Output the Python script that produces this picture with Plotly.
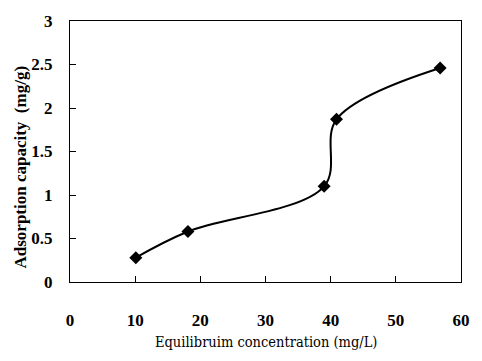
import plotly.graph_objects as go

conc = [10.1, 18.1, 39.0, 40.9, 56.8]
capacity = [0.28, 0.58, 1.10, 1.87, 2.46]
x_ticks = [0, 10, 20, 30, 40, 50, 60]
y_ticks = [0, 0.5, 1, 1.5, 2, 2.5, 3]
x_tick_text = ["0", "10", "20", "30", "40", "50", "60"]
y_tick_text = ["0", "0.5", "1", "1.5", "2", "2.5", "3"]
x_title = "Equilibruim concentration (mg/L)"
y_title = "Adsorption capacity  (mg/g)"

fig = go.Figure()
fig.add_trace(go.Scatter(
    x=conc, y=capacity, mode="lines+markers",
    line=dict(color="black", width=2, shape="spline", smoothing=1),
    marker=dict(symbol="diamond", size=10, color="black"),
    showlegend=False,
))

font = "Liberation Serif"
fig.update_layout(
    width=482, height=361,
    margin=dict(l=70, r=13, t=15, b=79),
    paper_bgcolor="white", plot_bgcolor="white",
    font=dict(family=font, color="black"),
    xaxis=dict(
        range=[0, 60], tickvals=x_ticks, ticktext=["<b>" + t + "</b>" for t in x_tick_text],
        ticks="inside", ticklen=6, tickcolor="black",
        showline=True, linecolor="black", linewidth=1, mirror=True,
        showgrid=False, zeroline=False,
        tickfont=dict(size=17, family=font, color="black"), ticklabelstandoff=23,
    ),
    yaxis=dict(
        range=[0, 3], tickvals=y_ticks, ticktext=["<b>" + t + "</b>" for t in y_tick_text],
        ticks="inside", ticklen=6, tickcolor="black",
        showline=True, linecolor="black", linewidth=1, mirror=True,
        showgrid=False, zeroline=False,
        tickfont=dict(size=17, family=font, color="black"), ticklabelstandoff=13,
    ),
    annotations=[
        dict(text=x_title, xref="paper", yref="paper", x=0.5, y=-0.228,
             xanchor="center", yanchor="middle", showarrow=False,
             font=dict(size=14.5, family="DejaVu Serif Condensed", color="black")),
        dict(text="<b>" + y_title + "</b>", xref="paper", yref="paper", x=-0.127, y=0.44,
             xanchor="center", yanchor="middle", showarrow=False, textangle=-90,
             font=dict(size=17, family=font, color="black")),
    ],
)
fig.write_html("out.html")
